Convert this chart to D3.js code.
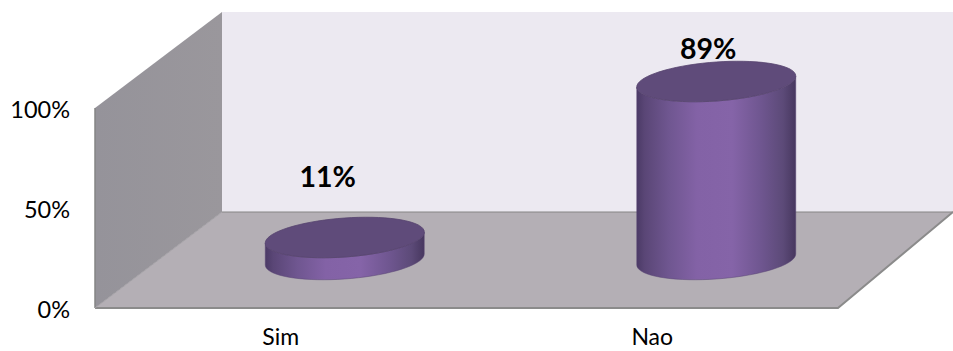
<!DOCTYPE html>
<html>
<head>
<meta charset="utf-8">
<script src="https://cdn.jsdelivr.net/npm/d3@7"></script>
<style>
html,body{margin:0;padding:0;background:#fff}
svg{display:block}
text{font-family:Lato,"Open Sans",sans-serif;fill:#000}
</style>
</head>
<body>
<svg id="c" width="953" height="351"></svg>
<script>
const categories = ["Sim", "Nao"];
const values = [0.11, 0.89];
const valueLabels = ["11%", "89%"];
const yTicks = [0, 0.5, 1];

const svg = d3.select("#c");
const x0 = 95, x1 = 838, yBase = 308, yTop = 108;
const depthX = 127, depthY = 96;

const x = d3.scaleBand().domain(categories).range([x0, x1]);
const y = d3.scaleLinear().domain([0, 1]).range([yBase, yTop]);
const poly = pts => "M" + pts.map(p => p.join(",")).join("L") + "Z";

const defs = svg.append("defs");
const wallG = defs.append("linearGradient").attr("id", "wall").attr("x1", 0).attr("x2", 1).attr("y1", 0).attr("y2", 0);
wallG.append("stop").attr("offset", 0).attr("stop-color", "#95939a");
wallG.append("stop").attr("offset", 1).attr("stop-color", "#9a979c");

const makeSide = (id) => {
  const g = defs.append("linearGradient").attr("id", id).attr("x1", 0).attr("x2", 1).attr("y1", 0).attr("y2", 0);
  [[0, "#4b3a66"], [0.05, "#5a4676"], [0.2, "#6f5690"], [0.38, "#8362a6"], [0.6, "#8564a8"],
   [0.78, "#6f5690"], [0.92, "#5c4a78"], [1, "#47375f"]]
    .forEach(([o, c]) => g.append("stop").attr("offset", o).attr("stop-color", c));
};
makeSide("side");

// Back wall
svg.append("path")
  .attr("d", poly([[x0 + depthX, y(1) - depthY], [953, y(1) - depthY], [953, yBase - depthY], [x0 + depthX, yBase - depthY]]))
  .attr("fill", "#ece9f1");
// Left wall
svg.append("path")
  .attr("d", poly([[x0, y(1)], [x0 + depthX, y(1) - depthY], [x0 + depthX, yBase - depthY], [x0, yBase]]))
  .attr("fill", "url(#wall)");
svg.append("line").attr("x1", x0).attr("x2", x0).attr("y1", y(1)).attr("y2", yBase)
  .attr("stroke", "#858585").attr("stroke-width", 1.5);
// Floor
svg.append("path")
  .attr("d", poly([[x0, yBase], [x1, yBase], [x1 + depthX - 12, yBase - depthY], [x0 + depthX, yBase - depthY]]))
  .attr("fill", "#b4afb5");
svg.append("path").attr("d", `M${x0 + depthX},${yBase - depthY}H953`).attr("stroke", "#858585").attr("stroke-width", 1.2).attr("fill", "none");
svg.append("path").attr("d", `M${x0},${yBase}H${x1}L953,${yBase - depthY}`).attr("stroke", "#8b8b8b").attr("stroke-width", 2).attr("fill", "none");
svg.append("line").attr("x1", x0).attr("y1", yBase).attr("x2", x0 + depthX).attr("y2", yBase - depthY)
  .attr("stroke", "#a3a0a5").attr("stroke-width", 1);

// Cylinders
const rx = 79.5, ry = 19.5, skew = 5.5;
const ellipse = (cx, cy) => d3.range(0, 73).map(i => {
  const t = i / 72 * 2 * Math.PI;
  return [cx + rx * Math.cos(t), cy + ry * Math.sin(t) - skew * Math.cos(t)];
});
const lowerArc = (cx, cy, rev) => {
  const pts = d3.range(0, 37).map(i => {
    const t = i / 36 * Math.PI;
    return [cx + rx * Math.cos(t), cy + ry * Math.sin(t) - skew * Math.cos(t)];
  });
  return rev ? pts.reverse() : pts;
};
const labelOffset = { Sim: [-17, -62], Nao: [-8, -34] };

categories.forEach((c, i) => {
  const cx = x(c) + x.bandwidth() / 2 + depthX / 2 + 0.5;
  const baseY = yBase - depthY / 2 - 0.5;
  const h = yBase - y(values[i]);
  const topY = baseY - h;
  const g = svg.append("g");
  const side = lowerArc(cx, baseY).concat(lowerArc(cx, topY, true));
  g.append("path").attr("d", poly(side)).attr("fill", "url(#side)")
    .attr("stroke", "#5a4674").attr("stroke-width", 0.5);
  g.append("path").attr("d", poly(ellipse(cx, topY))).attr("fill", "#5f4b7a")
    .attr("stroke", "#57446f").attr("stroke-width", 0.8);
  svg.append("text")
    .attr("x", cx + labelOffset[c][0]).attr("y", topY + labelOffset[c][1])
    .attr("text-anchor", "middle").attr("dominant-baseline", "central")
    .attr("font-size", 28.5).attr("font-weight", 700).text(valueLabels[i]);
});

// Axes
const yAxis = d3.axisLeft(y).tickValues(yTicks).tickFormat(d3.format(".0%")).tickSize(0).tickPadding(0);
const ga = svg.append("g").attr("transform", "translate(70,2)").call(yAxis);
ga.select(".domain").remove();
ga.selectAll("text").attr("font-size", 23.5).style("font-family", "Lato").style("fill", "#000");

const xAxis = d3.axisBottom(x).tickSize(0).tickPadding(0);
const gx = svg.append("g").attr("transform", "translate(0,328.5)").call(xAxis);
gx.select(".domain").remove();
gx.selectAll("text").attr("font-size", 23).style("font-family", "Lato").style("fill", "#000");
</script>
</body>
</html>
